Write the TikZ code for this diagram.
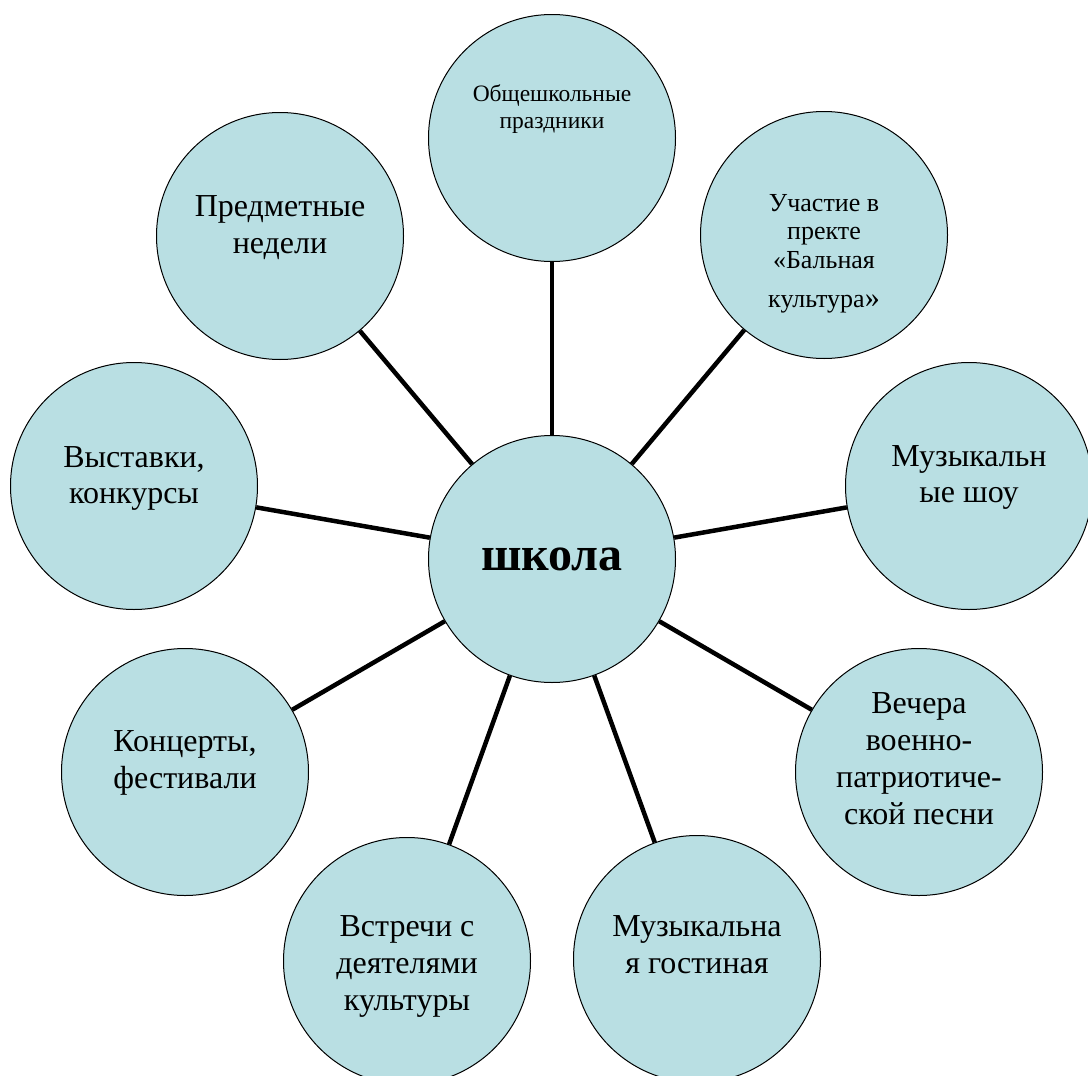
\documentclass[tikz,border=0pt]{standalone}
\usepackage{fontspec}
\setmainfont{Liberation Serif}
\usepackage{xcolor}
\usepackage{tikz}
\definecolor{bubblefill}{RGB}{185,223,227}
\tikzstyle{bubble} = [draw=black, fill=bubblefill, line width=1pt,
circle, minimum size=247pt, inner sep=0pt]
\tikzstyle{bubbletext} = [align=center, inner sep=0pt,
font=\fontsize{32}{36.8}\selectfont]
\tikzstyle{link} = [draw=black, line width=4.5pt]

\begin{document}
\begin{tikzpicture}[x=1pt, y=-1pt]
        \useasboundingbox (0,0) rectangle (1088,1076);
        \node [bubble, font=\fontsize{48}{55}\selectfont\bfseries] (school) at (552,559) {школа};
        \node [bubble] (holiday) at (552,138) {};
        \node [bubble] (week) at (280,236) {};
        \node [bubble] (project) at (824,235) {};
        \node [bubble] (expo) at (134,486) {};
        \node [bubble] (show) at (969,486) {};
        \node [bubble] (concert) at (185,772) {};
        \node [bubble] (evening) at (919,772) {};
        \node [bubble] (meeting) at (407,961) {};
        \node [bubble] (salon) at (697,959) {};
        \foreach \n in {holiday,week,project,expo,show,concert,evening,meeting,salon}
            \draw [link] (school) -- (\n);
        \node [bubbletext, font=\fontsize{23.5}{27}\selectfont] (holiday-t) at ([yshift=28.5pt]holiday.center) {Общешкольные\\праздники};
        \node [bubbletext] (week-t) at ([yshift=8.5pt]week.center) {Предметные\\недели};
        \node [bubbletext, font=\fontsize{26}{28.5}\selectfont] (project-t) at ([yshift=-19pt]project.center) {Участие в\\пректе\\«Бальная\\[11pt]культура{\fontsize{30}{30}\selectfont»}};
        \node [bubbletext] (expo-t) at ([yshift=7.5pt]expo.center) {Выставки,\\конкурсы};
        \node [bubbletext] (show-t) at ([yshift=8.5pt]show.center) {Музыкальн\\ые шоу};
        \node [bubbletext] (concert-t) at ([yshift=9pt]concert.center) {Концерты,\\фестивали};
        \node [bubbletext] (evening-t) at ([yshift=13.5pt]evening.center) {Вечера\\военно-\\патриотиче-\\ской песни};
        \node [bubbletext] (meeting-t) at ([yshift=-5.5pt]meeting.center) {Встречи с\\деятелями\\культуры};
        \node [bubbletext] (salon-t) at ([yshift=14.5pt]salon.center) {Музыкальна\\я гостиная};
    \end{tikzpicture}
\end{document}
